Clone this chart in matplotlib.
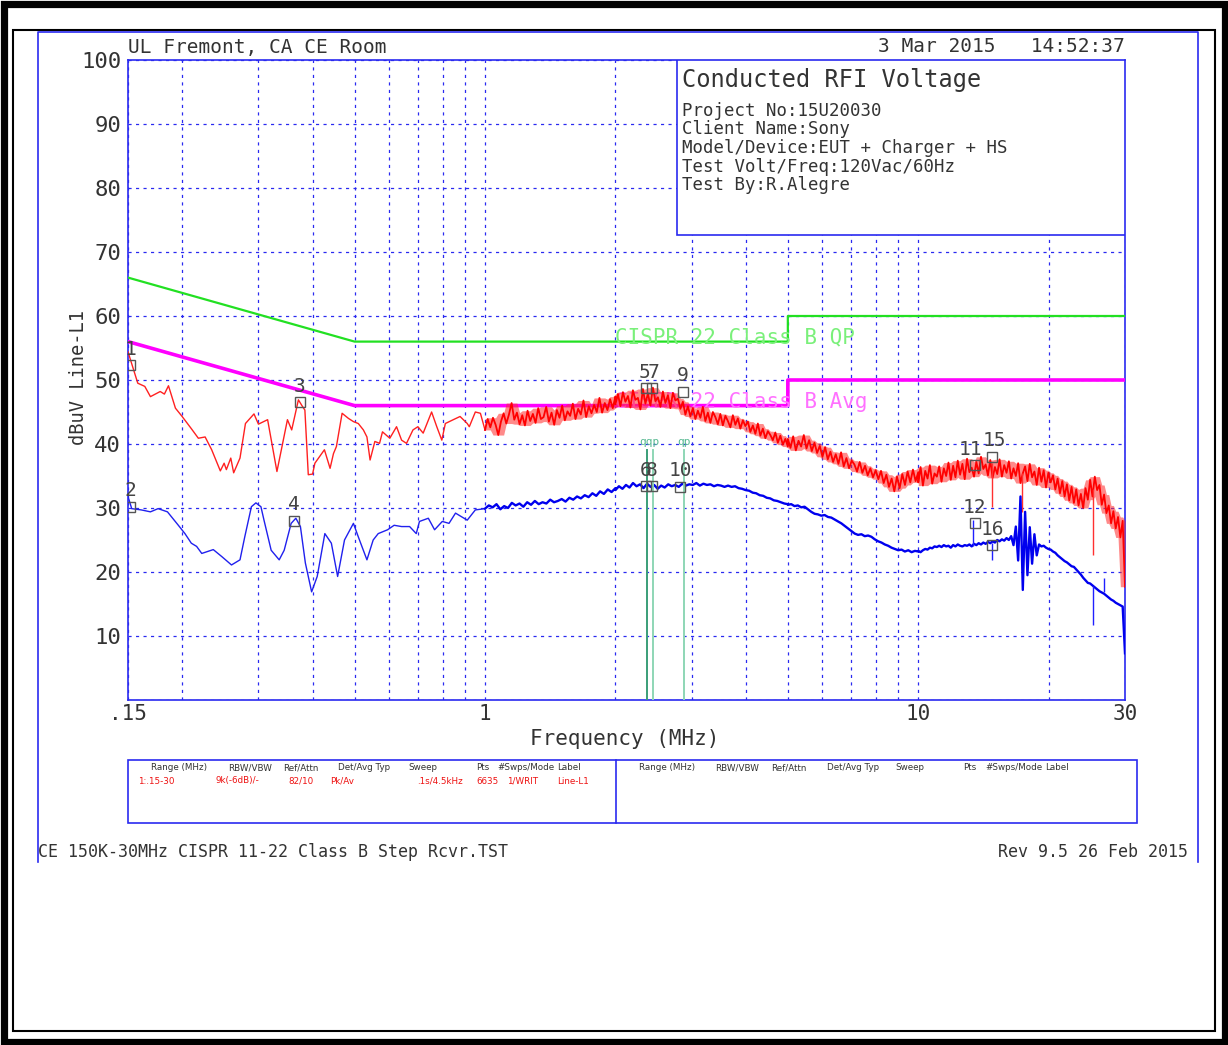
import matplotlib.pyplot as plt
from matplotlib.patches import Rectangle
from matplotlib.lines import Line2D
import numpy as np

# ---------------- data ----------------
# CISPR 22 class B limits (MHz, dBuV)
qp_f = [0.15, 0.5, 5.0, 5.0, 30.0]
qp_lim = [66, 56, 56, 60, 60]
av_f = [0.15, 0.5, 5.0, 5.0, 30.0]
av_lim = [56, 46, 46, 50, 50]

# peak trace, 150 kHz - 1 MHz
pk_lf_f = [0.150, 0.158, 0.164, 0.169, 0.178, 0.182, 0.186, 0.193, 0.200, 0.210,
           0.218, 0.226, 0.234, 0.245, 0.250, 0.253, 0.259, 0.263, 0.272, 0.280,
           0.293, 0.300, 0.315, 0.331, 0.350, 0.358, 0.371, 0.378, 0.384, 0.391,
           0.400, 0.405, 0.426, 0.439, 0.447, 0.454, 0.468, 0.484, 0.497, 0.510,
           0.524, 0.534, 0.543, 0.557, 0.571, 0.580, 0.603, 0.625, 0.642, 0.659,
           0.682, 0.700, 0.720, 0.753, 0.774, 0.795, 0.810, 0.845, 0.876, 0.910,
           0.920, 0.950, 0.976, 1.0]
pk_lf_v = [54.4, 49.5, 49.0, 47.4, 48.2, 47.8, 49.1, 45.6, 44.3, 42.4,
           40.9, 41.1, 39.1, 35.8, 37.0, 36.0, 37.8, 35.5, 37.8, 43.2,
           44.7, 43.1, 43.8, 35.7, 43.8, 42.2, 46.9, 46.0, 45.3, 35.2,
           35.3, 37.0, 39.1, 36.2, 38.5, 39.6, 44.8, 44.0, 43.5, 43.2,
           42.2, 41.1, 37.5, 40.4, 40.1, 41.9, 40.9, 42.7, 40.6, 40.1,
           42.2, 42.7, 41.7, 45.0, 42.7, 40.6, 43.2, 43.8, 44.3, 43.2,
           42.7, 45.0, 44.8, 42.2]

# peak trace, swept readings 1 - 30 MHz
pk_1_2 = [42.2, 43.9, 42.6, 44.1, 43.0, 41.4, 43.5, 44.8, 43.2, 44.6,
          46.4, 43.8, 44.9, 43.1, 44.5, 42.9, 45.2, 43.6, 44.7, 43.3,
          45.6, 43.9, 44.2, 45.8, 43.5, 44.9, 43.0, 45.3, 44.1, 46.0,
          43.7, 45.1, 44.4, 46.3, 43.9, 45.5, 44.6, 46.8, 44.2, 45.9,
          44.8, 46.1, 45.0, 47.2, 44.9, 46.4, 45.3, 47.0, 45.6, 47.4]
pk_2_5 = [46.2, 47.8, 45.9, 48.1, 46.6, 47.5, 45.7, 48.4, 46.9, 47.2,
          45.4, 48.6, 46.3, 47.9, 46.0, 48.8, 46.7, 47.3, 45.8, 48.2,
          46.4, 47.6, 45.6, 48.0, 46.8, 47.1, 45.5, 46.6, 44.6, 45.9,
          44.3, 45.6, 43.9, 45.2, 44.1, 45.8, 43.6, 44.9, 43.3, 45.0,
          44.2, 43.1, 44.7, 42.9, 44.4, 43.6, 42.6, 44.5, 43.0, 44.0,
          42.4, 43.7, 42.8, 43.5, 41.9, 42.9, 41.6, 43.2, 41.3, 42.4,
          40.9, 42.0, 41.4, 40.6, 41.8, 40.2, 41.3, 39.9, 40.8, 39.6]
pk_5_10 = [40.8, 39.4, 41.2, 39.0, 40.5, 39.6, 41.4, 39.3, 40.6, 38.9,
           40.2, 38.6, 39.7, 38.0, 39.5, 37.6, 38.8, 37.2, 38.4, 36.9,
           38.7, 36.5, 37.8, 36.2, 37.4, 36.8, 35.7, 37.2, 35.5, 36.6,
           35.1, 36.2, 34.8, 35.9, 34.5, 35.8, 33.9, 35.2, 33.3, 34.6,
           32.6, 34.9, 33.1, 35.3, 33.6, 35.7, 34.0, 36.0, 34.2, 35.6]
pk_10_30 = [34.0, 36.4, 33.5, 35.8, 34.6, 36.7, 33.8, 35.4, 34.9, 36.5,
            34.1, 36.2, 35.0, 37.1, 34.4, 36.6, 34.8, 37.4, 35.2, 36.9,
            34.5, 37.7, 35.6, 36.3, 34.9, 37.2, 35.4, 38.0, 36.1, 36.8,
            35.1, 37.5, 34.7, 36.4, 35.3, 37.6, 34.9, 36.7, 35.5, 37.3,
            34.6, 36.2, 35.0, 37.0, 33.9, 35.4, 36.5, 34.2, 36.9, 34.8,
            35.7, 33.6, 36.3, 34.1, 35.9, 33.2, 35.5, 34.0, 35.1, 32.9,
            34.6, 32.3, 34.2, 31.8, 33.7, 31.2, 33.3, 30.8, 32.9, 30.4,
            32.2, 30.0, 33.1, 31.3, 34.4, 31.8, 34.9, 32.8, 33.6, 30.5,
            32.1, 29.2, 30.4, 27.6, 29.5, 26.8, 28.6, 25.4, 28.0, 17.7]
pk_spk_f = [14.8, 17.4, 25.3]
pk_spk_top = [37.0, 35.5, 33.0]
pk_spk_low = [30.2, 29.4, 22.7]

# average trace, 150 kHz - 1 MHz
av_lf_f = [0.150, 0.153, 0.161, 0.169, 0.176, 0.185, 0.196, 0.203, 0.210, 0.216,
           0.222, 0.236, 0.247, 0.260, 0.272, 0.279, 0.289, 0.296, 0.304, 0.309,
           0.321, 0.335, 0.344, 0.357, 0.366, 0.375, 0.385, 0.398, 0.410, 0.427,
           0.442, 0.457, 0.474, 0.497, 0.510, 0.534, 0.552, 0.567, 0.596, 0.617,
           0.642, 0.670, 0.694, 0.706, 0.740, 0.765, 0.797, 0.826, 0.855, 0.910,
           0.950, 1.0]
av_lf_v = [31.8, 29.9, 29.7, 29.4, 29.9, 29.4, 27.3, 26.0, 24.5, 24.0,
           22.9, 23.5, 22.4, 21.1, 21.9, 25.5, 30.2, 30.8, 30.2, 28.1,
           23.4, 21.9, 23.4, 27.6, 28.4, 27.1, 21.4, 16.9, 19.3, 26.0,
           24.5, 19.3, 25.0, 27.6, 25.5, 21.9, 25.0, 26.0, 26.6, 27.3,
           27.1, 27.1, 26.0, 27.9, 28.4, 26.6, 27.9, 27.6, 29.2, 28.1,
           29.7, 29.9]

av_1_2 = [29.9, 30.4, 30.1, 30.6, 29.8, 30.3, 30.0, 30.8, 30.4, 30.7,
          30.2, 30.9, 30.5, 31.1, 30.6, 30.9, 30.7, 31.3, 30.9, 31.1,
          31.4, 31.0, 31.6, 31.3, 31.8, 31.5, 32.0, 31.7, 32.3, 31.9,
          32.6, 32.2, 32.9, 32.5, 33.1]
av_2_5 = [32.8, 33.4, 33.0, 33.6, 33.2, 33.9, 33.4, 33.7, 33.1, 33.8,
          33.3, 33.6, 33.0, 33.5, 33.2, 33.7, 33.4, 33.6, 33.3, 33.8,
          33.5, 33.7, 33.6, 33.9, 33.5, 33.8, 33.6, 33.7, 33.4, 33.6,
          33.5, 33.3, 33.5, 33.3, 33.4, 33.1, 33.0, 32.8, 32.7, 32.4,
          32.3, 32.0, 31.9, 31.6, 31.5, 31.2, 31.1, 30.9, 30.7, 30.6]
av_5_10 = [30.5, 30.6, 30.3, 30.4, 30.1, 30.2, 29.8, 29.4, 29.1, 29.0,
           28.8, 28.9, 28.6, 28.5, 28.2, 27.9, 27.6, 27.2, 26.8, 26.4,
           26.0, 25.8, 25.9, 25.6, 25.7, 25.5, 25.1, 24.8, 24.6, 24.3,
           24.1, 23.8, 23.6, 23.4, 23.5, 23.2, 23.4, 23.1, 23.3, 23.2]
av_10_30 = [23.3, 23.1, 23.4, 23.6, 23.5, 23.8, 23.7, 24.0, 23.9, 24.1,
            23.9, 24.2, 24.0, 24.1, 23.8, 24.2, 24.0, 24.3, 24.1, 24.0,
            24.2, 24.1, 24.3, 24.0, 24.4, 24.2, 24.5, 24.3, 24.6, 24.4,
            24.7, 24.5, 24.8, 24.6, 25.0, 24.8, 25.1, 24.9, 25.3, 25.0,
            25.6, 24.2, 27.1, 21.8, 31.8, 17.2, 29.4, 19.5, 27.0, 21.3,
            25.9, 22.6, 24.3, 24.0, 24.1, 23.8, 23.6, 23.5, 23.2, 23.0,
            22.6, 22.3, 22.0, 21.7, 21.5, 21.2, 20.9, 20.8, 20.4, 20.0,
            19.6, 19.1, 18.7, 18.3, 18.2, 17.9, 17.6, 17.3, 17.0, 16.8,
            16.6, 16.3, 16.0, 15.7, 15.5, 15.2, 15.0, 14.8, 14.6, 7.3]
av_spk_f = [13.4, 14.8, 25.3, 26.8]
av_spk_base = [24.1, 24.5, 17.8, 16.9]
av_spk_end = [28.1, 21.9, 11.7, 19.0]

# markers
mk_lbl = ['1', '2', '3', '4', '5', '6', '7', '8', '9', '10', '11', '12', '15', '16']
mk_f = [0.152, 0.152, 0.374, 0.363, 2.35, 2.35, 2.43, 2.43, 2.86, 2.82, 13.5, 13.5, 14.8, 14.8]
mk_v = [52.3, 30.2, 46.5, 28.0, 48.7, 33.4, 48.7, 33.4, 48.2, 33.3, 36.7, 27.6, 38.0, 24.2]
qp_mk_f = [2.37, 2.44, 2.88]

box_lines = ["Project No:15U20030", "Client Name:Sony", "Model/Device:EUT + Charger + HS",
             "Test Volt/Freq:120Vac/60Hz", "Test By:R.Alegre"]
tbl_head = ["Range (MHz)", "RBW/VBW", "Ref/Attn", "Det/Avg Typ", "Sweep", "Pts", "#Swps/Mode", "Label"]
tbl_vals = ["1:.15-30", "9k(-6dB)/-", "82/10", "Pk/Av", ".1s/4.5kHz", "6635", "1/WRIT", "Line-L1"]

# ---------------- build sweeps ----------------
def sweep(segs):
    ff, vv = [], []
    for a, b, v in segs:
        ff += list(np.geomspace(a, b, len(v)))
        vv += list(v)
    return np.array(ff), np.array(vv)

pk_hf_f, pk_hf_v = sweep([(1, 2, pk_1_2), (2, 5, pk_2_5), (5, 10, pk_5_10), (10, 30, pk_10_30)])
av_hf_f, av_hf_v = sweep([(1, 2, av_1_2), (2, 5, av_2_5), (5, 10, av_5_10), (10, 30, av_10_30)])

# noise envelope of the swept peak readings (max / min over 5 neighbours)
pad = np.r_[pk_hf_v[:1], pk_hf_v[:1], pk_hf_v, pk_hf_v[-1:], pk_hf_v[-1:]]
nb = np.vstack([pad[k:k + len(pk_hf_v)] for k in range(5)])
pk_hi, pk_lo = nb.max(axis=0), nb.min(axis=0)

# ---------------- figure ----------------
W, H = 1228, 1045
def px(x): return x / W
def py(y): return 1 - y / H

mono = 'DejaVu Sans Mono'
blue = '#2a2af0'
txt = '#333333'

fig = plt.figure(figsize=(12.28, 10.45), dpi=100)
ax = fig.add_axes([px(128), py(700), 997 / W, 640 / H])

ax.set_xscale('log')
ax.set_xlim(0.15, 30)
ax.set_ylim(0, 100)

ax.set_xticks([0.15, 1, 10, 30])
ax.set_xticklabels(['.15', '1', '10', '30'])
ax.set_xticks([0.2, 0.3, 0.4, 0.5, 0.6, 0.7, 0.8, 0.9, 2, 3, 4, 5, 6, 7, 8, 9, 20], minor=True)
ax.set_yticks(range(0, 101, 10))
ax.set_yticklabels([''] + [str(v) for v in range(10, 101, 10)])
ax.tick_params(which='both', length=0, labelcolor=txt)
ax.tick_params(axis='y', labelsize=16, pad=5)
ax.tick_params(axis='x', labelsize=15, pad=3)
for lab in ax.get_xticklabels() + ax.get_yticklabels():
    lab.set_family(mono)
ax.xaxis.set_minor_formatter(plt.NullFormatter())
ax.grid(which='both', color=blue, linestyle=(0, (2.5, 3.5)), lw=0.9)
for s in ax.spines.values():
    s.set_color(blue)
    s.set_linewidth(1.2)

# limits
ax.plot(qp_f, qp_lim, color='#22e022', lw=1.6, zorder=3)
ax.plot(av_f, av_lim, color='#ff00ff', lw=2.6, zorder=3)
ax.text(2.0, 56.6, 'CISPR 22 Class B QP', color='#7af07a', fontsize=15, family=mono,
        va='center', zorder=3)
ax.text(2.0, 46.6, 'CISPR 22 Class B Avg', color='#ff70ff', fontsize=15, family=mono,
        va='center', zorder=3)

# traces
ax.plot(pk_lf_f, pk_lf_v, color='#ff2020', lw=1.0, zorder=4)
ax.fill_between(pk_hf_f, pk_lo, pk_hi, color='#ff2a2a', alpha=0.55, lw=0, zorder=4)
ax.plot(pk_hf_f, pk_hf_v, color='#ff0000', lw=1.3, zorder=4)
ax.vlines(pk_spk_f, pk_spk_low, pk_spk_top, color='#ff3030', lw=1.0, zorder=4)
ax.plot(av_lf_f, av_lf_v, color='#2020ee', lw=1.0, zorder=4)
ax.plot(av_hf_f, av_hf_v, color='#0000ee', lw=1.7, zorder=4)
ax.vlines(av_spk_f, av_spk_end, av_spk_base, color='#2020ff', lw=1.0, zorder=4)

# qp marker lines
qp_cols = ['#3a9e78', '#8ed6b6', '#8ed6b6']
for f, c in zip(qp_mk_f, qp_cols):
    ax.plot([f, f], [0, 39], color=c, lw=1.4, zorder=5)
ax.text(2.40, 39.6, 'qqp', color='#55b890', fontsize=8, family=mono, ha='center',
        va='bottom', zorder=5)
ax.text(qp_mk_f[2], 39.6, 'qp', color='#55b890', fontsize=8, family=mono, ha='center',
        va='bottom', zorder=5)

# markers
mk_dx = {'11': -3, '15': 2, '5': -1, '7': 1}
ax.plot(mk_f, mk_v, 's', ms=7, mfc='none', mec='#555555', mew=1.0, zorder=6)
for l, f, v in zip(mk_lbl, mk_f, mk_v):
    ax.annotate(l, (f, v), xytext=(mk_dx.get(l, 0), 11.5), textcoords='offset points',
                ha='center', va='center', fontsize=14, family=mono, color='#444444', zorder=6)

# info box
ax.add_patch(Rectangle(((677 - 128) / 997, (700 - 235) / 640), (1125 - 677) / 997,
                       (235 - 60) / 640, transform=ax.transAxes, facecolor='white',
                       edgecolor=blue, lw=1.2, zorder=7))
ax.text((682 - 128) / 997, (700 - 80) / 640, 'Conducted RFI Voltage', transform=ax.transAxes,
        fontsize=17, family=mono, color=txt, va='center', zorder=8)
for i, s in enumerate(box_lines):
    ax.text((682 - 128) / 997, (700 - (111 + 18.5 * i)) / 640, s, transform=ax.transAxes,
            fontsize=12.5, family=mono, color=txt, va='center', zorder=8)

# surrounding texts
fig.text(px(128), py(47), 'UL Fremont, CA CE Room', fontsize=14, family=mono, color=txt, va='center')
fig.text(px(1125), py(47), '3 Mar 2015   14:52:37', fontsize=14, family=mono, color=txt,
         va='center', ha='right')
fig.text(px(625), py(739), 'Frequency (MHz)', fontsize=15, family=mono, color=txt,
         va='center', ha='center')
fig.text(px(78), py(378), 'dBuV Line-L1', fontsize=13.5, family=mono, color=txt,
         va='center', ha='center', rotation=90)
fig.text(px(38), py(852), 'CE 150K-30MHz CISPR 11-22 Class B Step Rcvr.TST', fontsize=12,
         family=mono, color=txt, va='center')
fig.text(px(1188), py(852), 'Rev 9.5 26 Feb 2015', fontsize=12, family=mono, color=txt,
         va='center', ha='right')

# settings table
fig.add_artist(Rectangle((px(128), py(823)), (1137 - 128) / W, (823 - 760) / H,
                         transform=fig.transFigure, fill=False, edgecolor=blue, lw=1.2))
fig.add_artist(Line2D([px(616), px(616)], [py(823), py(760)], color=blue, lw=1.2))
head_x1 = [151, 228, 283, 338, 408, 476, 497, 557]
val_x1 = [138, 215, 288, 330, 417, 476, 507, 557]
head_x2 = [639, 715, 771, 827, 895, 963, 985, 1045]
for h, x in zip(tbl_head, head_x1):
    fig.text(px(x), py(768), h, fontsize=6.3, color='#333333', va='center')
for h, x in zip(tbl_head, head_x2):
    fig.text(px(x), py(768), h, fontsize=6.3, color='#333333', va='center')
for v, x in zip(tbl_vals, val_x1):
    fig.text(px(x), py(781), v, fontsize=6.3, color='#ee1111', va='center')

# frames
fig.add_artist(Line2D([px(38), px(38), px(1198), px(1198)], [py(862), py(32), py(32), py(862)],
                      color=blue, lw=1.2))
fig.add_artist(Rectangle((px(3.5), py(1041.5)), (W - 7) / W, (H - 7) / H,
                         transform=fig.transFigure, fill=False, edgecolor='black', lw=5.2))
fig.add_artist(Rectangle((px(13), py(1031)), (W - 26) / W, (H - 44) / H,
                         transform=fig.transFigure, fill=False, edgecolor='black', lw=1.5))

fig.savefig('out.png', dpi=100)
